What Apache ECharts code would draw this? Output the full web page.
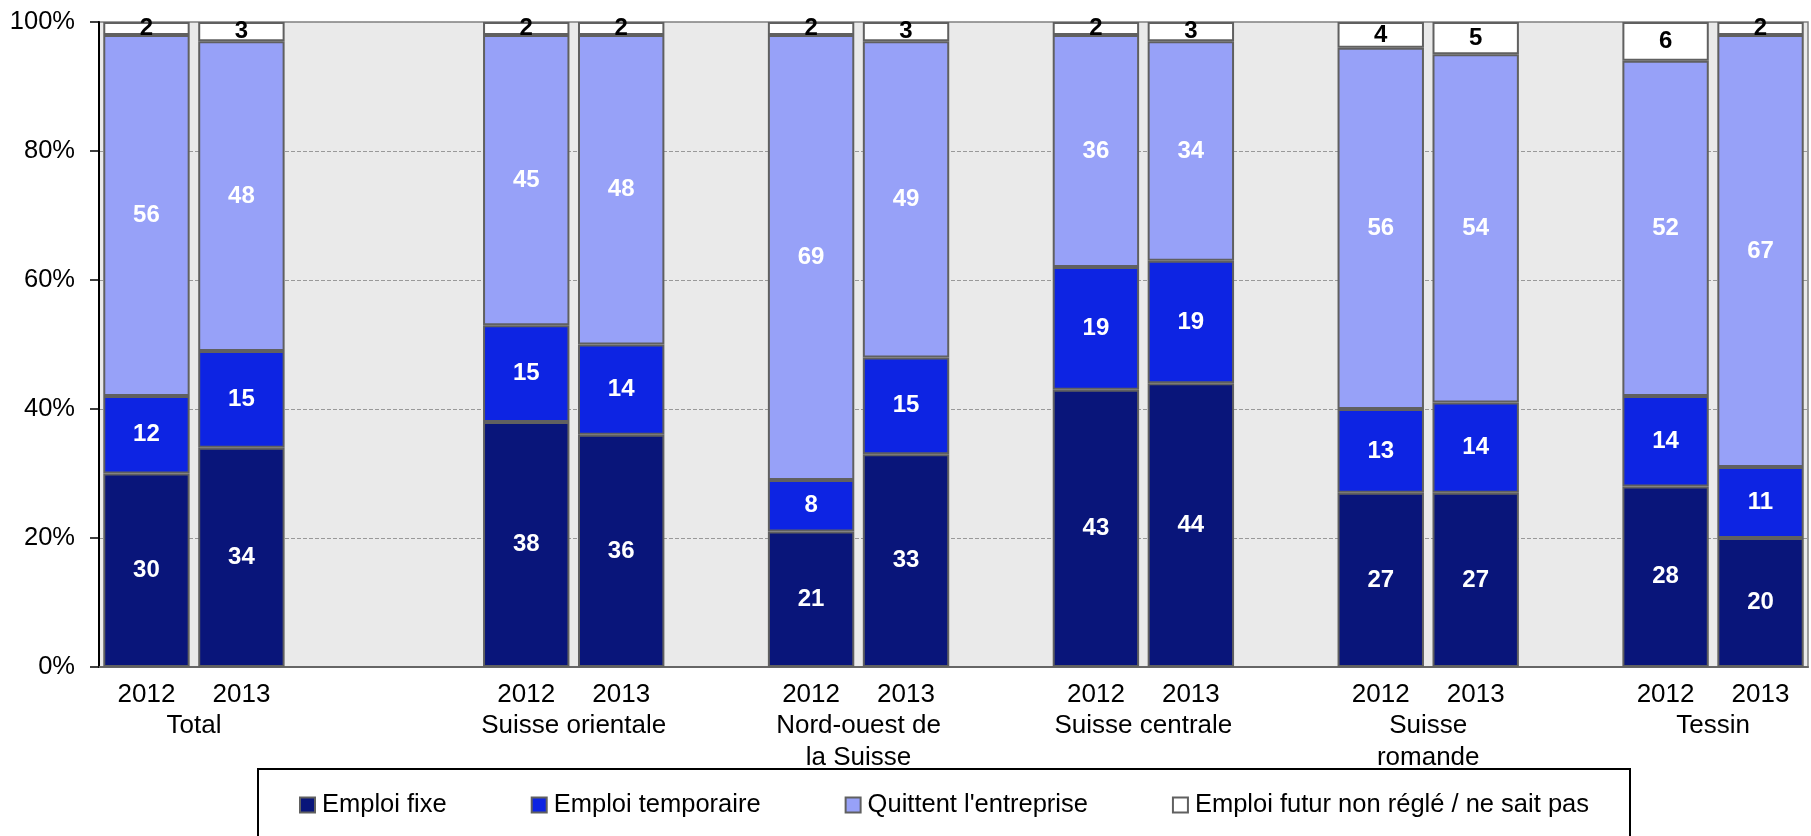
<!DOCTYPE html>
<html>
<head>
<meta charset="utf-8">
<script src="https://cdn.jsdelivr.net/npm/echarts@6/dist/echarts.min.js"></script>
<style>
html,body{margin:0;padding:0;background:#fff}
#main{width:1811px;height:836px}
</style>
</head>
<body>
<div id="main"></div>
<script>
var chart = echarts.init(document.getElementById('main'));

// slots on the x axis, '' = empty slot between regions
var years = ['2012','2013','','','2012','2013','','2012','2013','','2012','2013','','2012','2013','','2012','2013'];
// region names, and the slot boundary they sit on (between 2012 and 2013)
var regions = ['Total','Suisse orientale','Nord-ouest de\nla Suisse','Suisse centrale','Suisse\nromande','Tessin'];
var regionPos = [1,5,8,11,14,17];

// shares in %
var emploiFixe    = [30,34,null,null,38,36,null,21,33,null,43,44,null,27,27,null,28,20];
var emploiTemp    = [12,15,null,null,15,14,null, 8,15,null,19,19,null,13,14,null,14,11];
var quittent      = [56,48,null,null,45,48,null,69,49,null,36,34,null,56,54,null,52,67];
var nonRegle      = [ 2, 3,null,null, 2, 2,null, 2, 3,null, 2, 3,null, 4, 5,null, 6, 2];

var yTicks = [0,20,40,60,80,100];

var font = 'Liberation Sans, Arial, sans-serif';

function serie(name, data, color, labelColor){
	return {
		name: name,
		type: 'bar',
		stack: 'total',
		data: data,
		barCategoryGap: '9%',
		itemStyle: {color: color, borderColor: '#606060', borderWidth: 2},
		label: {
			show: true,
			position: 'inside',
			color: labelColor,
			fontFamily: font,
			fontWeight: 'bold',
			fontSize: 24
		},
		emphasis: {disabled: true}
	};
}

var option = {
	backgroundColor: '#fff',
	animation: false,
	grid: {
		left: 99, right: -9, top: 22, bottom: 169,
		show: true,
		backgroundColor: '#eaeaea',
		borderColor: '#808080',
		borderWidth: 1.5
	},
	legend: {
		left: 299,
		top: 792,
		padding: 0,
		itemWidth: 15,
		itemHeight: 15,
		itemGap: 84,
		icon: 'rect',
		selectedMode: false,
		textStyle: {fontFamily: font, fontSize: 25.5, color: '#000', padding: [0,0,0,2]}
	},
	graphic: [{
		type: 'rect',
		shape: {x: 258, y: 769, width: 1372, height: 120},
		style: {fill: 'none', stroke: '#000', lineWidth: 2},
		silent: true
	}],
	xAxis: [{
		type: 'category',
		data: years,
		axisLine: {lineStyle: {color: '#666', width: 2}},
		axisTick: {show: false},
		axisLabel: {interval: 0, margin: 12, color: '#000', fontFamily: font, fontSize: 26, lineHeight: 32}
	}, {
		type: 'value',
		position: 'bottom',
		offset: 0,
		min: 0,
		max: years.length,
		interval: 1,
		axisLine: {show: false},
		axisTick: {show: false},
		splitLine: {show: false},
		axisLabel: {
			margin: 43,
			color: '#000', fontFamily: font, fontSize: 26, lineHeight: 32,
			formatter: function(v){
				var i = regionPos.indexOf(v);
				return i >= 0 ? regions[i] : '';
			}
		}
	}],
	yAxis: {
		type: 'value',
		min: yTicks[0],
		max: yTicks[yTicks.length-1],
		interval: 20,
		axisLine: {show: true, lineStyle: {color: '#000', width: 2}},
		axisTick: {show: true, length: 9, lineStyle: {color: '#000', width: 1.5}},
		axisLabel: {margin: 24, color: '#000', fontFamily: font, fontSize: 25.5, formatter: '{value}%'},
		splitLine: {lineStyle: {color: '#999', width: 1, type: 'dashed'}}
	},
	series: [
		serie('Emploi fixe', emploiFixe, '#09157a', '#fff'),
		serie('Emploi temporaire', emploiTemp, '#0d24e3', '#fff'),
		serie("Quittent l'entreprise", quittent, '#97a1f8', '#fff'),
		serie('Emploi futur non réglé / ne sait pas', nonRegle, '#ffffff', '#000')
	]
};
chart.setOption(option);
</script>
</body>
</html>
